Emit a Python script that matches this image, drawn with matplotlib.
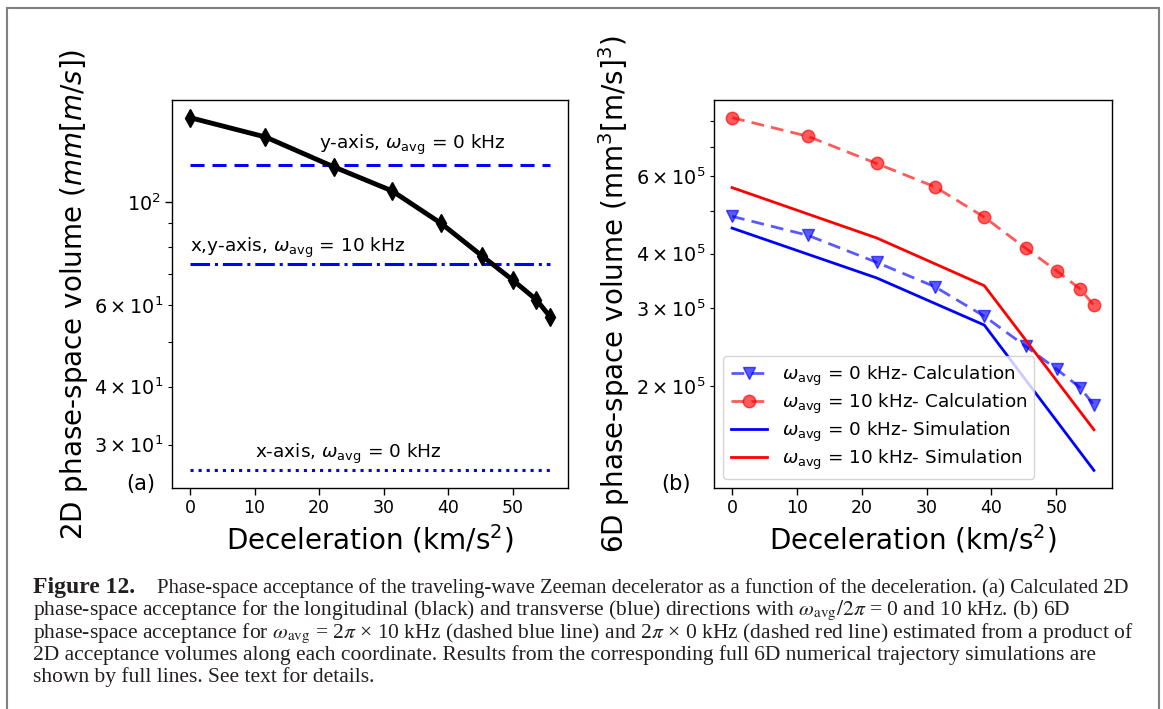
import matplotlib
matplotlib.use('Agg')
import matplotlib.pyplot as plt
from matplotlib.patches import Rectangle

plt.rcParams['font.family'] = ['DejaVu Sans']
plt.rcParams['mathtext.fontset'] = 'dejavusans'

# ---------------- data ----------------
decel = [0, 11.7, 22.3, 31.3, 38.9, 45.3, 50.1, 53.7, 55.8]
long_2d = [151.8, 137.9, 118.9, 105.6, 89.9, 76.4, 67.7, 61.5, 56.6]
y_axis_0khz = 120.3
xy_axis_10khz = 73.4
x_axis_0khz = 26.4

calc_0khz = [4.86e5, 4.40e5, 3.82e5, 3.36e5, 2.88e5, 2.46e5, 2.18e5, 1.98e5, 1.81e5]
calc_10khz = [8.15e5, 7.39e5, 6.41e5, 5.67e5, 4.84e5, 4.11e5, 3.65e5, 3.32e5, 3.05e5]
sim_decel = [0, 22.3, 38.9, 55.8]
sim_0khz = [4.57e5, 3.52e5, 2.75e5, 1.285e5]
sim_10khz = [5.65e5, 4.34e5, 3.38e5, 1.59e5]

W, H = 1163, 709
fig = plt.figure(figsize=(W / 100, H / 100), dpi=100)

XTICK_FS = 12.5
YTICK_FS = 13.8
LAB_FS = 20
ANN_FS = 13.3
LEG_FS = 13.2
PANEL_FS = 15
DASH = (0, (4.6, 2.6))


def style(ax):
    ax.tick_params(which='major', length=4.8, width=1.0, pad=3.0)
    ax.tick_params(which='minor', length=3.0, width=0.8, pad=3.0)
    ax.tick_params(axis='x', which='both', labelsize=XTICK_FS)
    ax.tick_params(axis='y', which='both', labelsize=YTICK_FS)
    for s in ax.spines.values():
        s.set_linewidth(1.0)


# ---------------- panel (a) ----------------
axa = fig.add_axes([172 / W, 1 - 488 / H, 396 / W, 388 / H])
axa.set_yscale('log')
xr = [decel[0], decel[-1]]
axa.plot(xr, [y_axis_0khz] * 2, color='b', ls=DASH, lw=2.2)
axa.plot(xr, [xy_axis_10khz] * 2, color='b', ls='-.', lw=2.2)
axa.plot(xr, [x_axis_0khz] * 2, color='b', ls=':', lw=2.2)
axa.plot(decel, long_2d, color='k', lw=3.5, marker='d', ms=9)
axa.text(20, 130, r'y-axis, $\omega_{\rm avg}$ = 0 kHz', fontsize=ANN_FS)
axa.text(0, 78, r'x,y-axis, $\omega_{\rm avg}$ = 10 kHz', fontsize=ANN_FS)
axa.text(10, 28, r'x-axis, $\omega_{\rm avg}$ = 0 kHz', fontsize=ANN_FS)
axa.set_xlabel(r'Deceleration (km/s$^2$)', fontsize=LAB_FS, labelpad=4.5)
axa.set_ylabel(r'2D phase-space volume ($mm[m/s]$)', fontsize=LAB_FS, labelpad=3)
axa.text(-0.116, 0.01, '(a)', transform=axa.transAxes, fontsize=PANEL_FS,
         ha='left', va='center')
style(axa)

# ---------------- panel (b) ----------------
axb = fig.add_axes([714 / W, 1 - 488 / H, 398 / W, 388 / H])
axb.set_yscale('log')
axb.plot(decel, calc_0khz, color='b', ls=DASH, lw=2, marker='v', ms=9, alpha=0.65,
         label=r'$\omega_{\rm avg}$ = 0 kHz- Calculation')
axb.plot(decel, calc_10khz, color='r', ls=DASH, lw=2, marker='o', ms=9, alpha=0.65,
         label=r'$\omega_{\rm avg}$ = 10 kHz- Calculation')
axb.plot(sim_decel, sim_0khz, color='b', lw=2,
         label=r'$\omega_{\rm avg}$ = 0 kHz- Simulation')
axb.plot(sim_decel, sim_10khz, color='r', lw=2,
         label=r'$\omega_{\rm avg}$ = 10 kHz- Simulation')
axb.legend(loc='lower left', fontsize=LEG_FS, labelspacing=0.2)
axb.set_xlabel(r'Deceleration (km/s$^2$)', fontsize=LAB_FS, labelpad=4.5)
axb.set_ylabel(r'6D phase-space volume (mm$^3$[m/s]$^3$)', fontsize=LAB_FS, labelpad=3)
axb.text(-0.132, 0.01, '(b)', transform=axb.transAxes, fontsize=PANEL_FS,
         ha='left', va='center')
style(axb)

# ---------------- border ----------------
fig.add_artist(Rectangle((6.7 / W, -0.05), (1159.3 - 6.7) / W, 1.05 - 8 / H,
                         transform=fig.transFigure, fill=False,
                         edgecolor='#808080', lw=1.5, clip_on=False))

# ---------------- caption ----------------
cap_color = '#231f20'
CAP_FONT = 'Liberation Serif'
head = 'Figure 12.'
lines = [
    'Phase-space acceptance of the traveling-wave Zeeman decelerator as a function of the deceleration. (a) Calculated 2D',
    r'phase-space acceptance for the longitudinal (black) and transverse (blue) directions with $\omega_{\rm avg}/2\pi$ = 0 and 10 kHz. (b) 6D',
    r'phase-space acceptance for $\omega_{\rm avg}$ = 2$\pi$ × 10 kHz (dashed blue line) and 2$\pi$ × 0 kHz (dashed red line) estimated from a product of',
    '2D acceptance volumes along each coordinate. Results from the corresponding full 6D numerical trajectory simulations are',
    'shown by full lines. See text for details.',
]
base = [593.5, 615.7, 637.9, 660.1, 682.3]
x0 = 33.3
fig.canvas.draw()
r = fig.canvas.get_renderer()


def width_at(txt, fsz):
    t = fig.text(0, 0.5, txt, fontsize=fsz, family=CAP_FONT, math_fontfamily='stix')
    w = t.get_window_extent(r).width
    t.remove()
    return w


fs = 13.0 * (1131 - x0) / width_at(lines[2], 13.0)
fs1 = 13.0 * (1125 - 156.7) / width_at(lines[0], 13.0)

fig.text(x0 / W, 1 - base[0] / H, head, fontsize=fs * 1.1, family=CAP_FONT,
         weight='bold', color=cap_color, va='baseline')
fig.text(156.7 / W, 1 - base[0] / H, lines[0], fontsize=fs1,
         family=CAP_FONT, color=cap_color, va='baseline')
for ln, b in zip(lines[1:], base[1:]):
    fig.text(x0 / W, 1 - b / H, ln, fontsize=fs, family=CAP_FONT,
             color=cap_color, va='baseline', math_fontfamily='stix')

fig.savefig('out.png', dpi=100)
